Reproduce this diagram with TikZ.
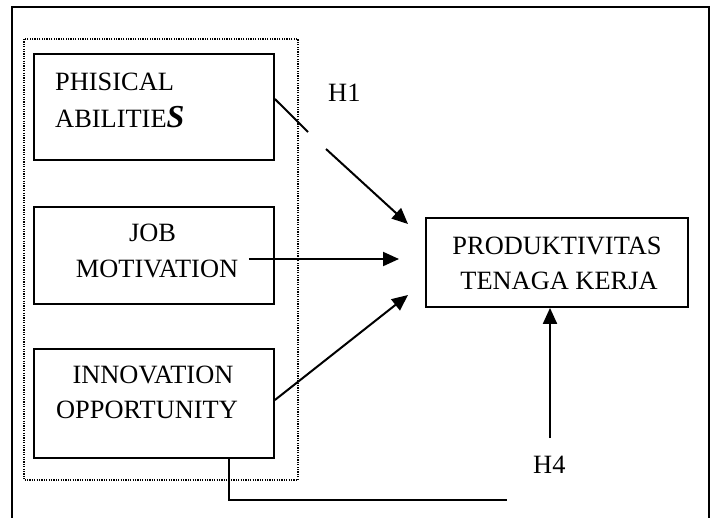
\documentclass[tikz,border=0pt]{standalone}
\usepackage{fontspec}
\setmainfont{Liberation Serif}
\usetikzlibrary{arrows.meta}
\begin{document}
\begin{tikzpicture}[x=1pt,y=-1pt,
  box/.style={draw,line width=1.8pt,minimum width=240pt,inner sep=0pt},
  txt/.style={inner sep=0pt,font=\fontsize{26.4}{32}\selectfont},
  arr/.style={line width=2pt,-{Triangle[length=16pt,width=14pt]}},
  ln/.style={line width=2pt}]
\useasboundingbox (0,0) rectangle (714,517);
% outer frame
\draw[line width=2pt] (12,520) -- (12,7) -- (709,7) -- (709,520);
% dotted group
\draw[line width=1.3pt,dash pattern=on 1.2pt off 1.2pt] (24,39) rectangle (298,480);
% boxes
\node[box,minimum height=106pt] (phys) at (154,107) {};
\node[box,minimum height=97pt] (job) at (154,255.5) {};
\node[box,minimum height=109pt] (inno) at (154,403.5) {};
\node[box,minimum width=262pt,minimum height=89pt] (prod) at (557,262.5) {};
% texts
\node[txt,anchor=base west] (phys1) at (55,90.7) {PHISICAL};
\node[txt,anchor=base west] (phys2) at (55,127.7) {ABILITIE{\bfseries\itshape\fontsize{32}{32}\selectfont S}};
\node[txt,anchor=base] (job1) at (152.5,241.7) {JOB};
\node[txt,anchor=base] (job2) at (157,277) {MOTIVATION};
\node[txt,anchor=base] (inno1) at (153,383) {INNOVATION};
\node[txt,anchor=base] (inno2) at (147,418) {OPPORTUNITY};
\node[txt,anchor=base] (prod1) at (557,254) {PRODUKTIVITAS};
\node[txt,anchor=base] (prod2) at (559,289) {TENAGA KERJA};
\node[txt,anchor=base west] (h1) at (328,101) {H1};
\node[txt,anchor=base west] (h4) at (533,473) {H4};
% coordinates
\coordinate (h1a) at (308,132);
\coordinate (h1b) at (326,149);
\coordinate (t1) at (408,224);
\coordinate (t2) at (399,259);
\coordinate (t3) at (408,295);
\coordinate (h4s) at (550,438);
\coordinate (h4e) at (507,500);
% connectors
\draw[ln] ([yshift=8pt]phys.east) -- (h1a);
\draw[arr] (h1b) -- (t1);
\draw[arr] ([xshift=-26pt,yshift=-3.5pt]job.east) -- (t2);
\draw[arr] ([yshift=3.5pt]inno.east) -- (t3);
\draw[arr] (h4s) -- ([xshift=-7pt]prod.south);
\draw[ln] ([xshift=75pt]inno.south) |- (h4e);
\end{tikzpicture}
\end{document}
